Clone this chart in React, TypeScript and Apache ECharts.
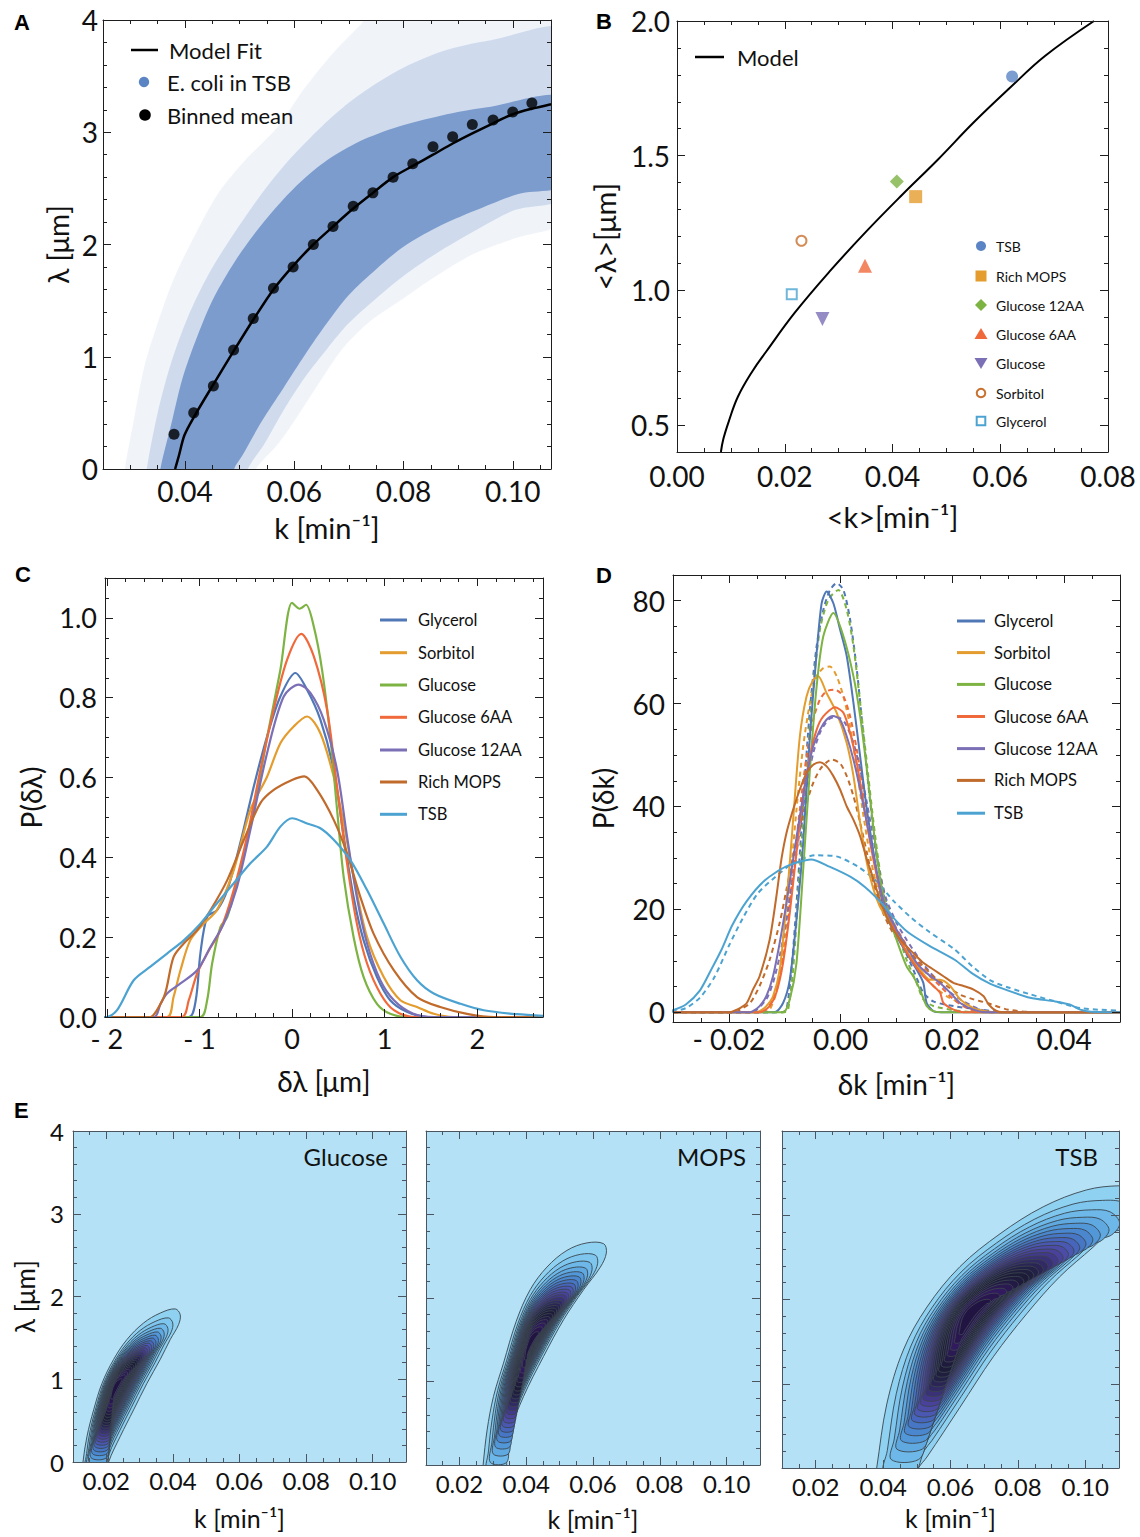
import React, { useEffect, useRef } from "react";
import * as echarts from "echarts";

const FONT = "Lato, 'Open Sans', 'DejaVu Sans', sans-serif";
const BOLD_FONT = "'Liberation Sans', Arial, sans-serif";
const INK = "#111111";
const FRAME = "#1e1e1e";

// ---------------- Panel A ----------------
const binnedK = [0.038, 0.0416, 0.0452, 0.0489, 0.0525, 0.0562, 0.0598, 0.0635, 0.0671, 0.0708, 0.0744, 0.0781, 0.0817, 0.0854, 0.089, 0.0926, 0.0964, 0.1, 0.1035];
const binnedLambda = [0.31, 0.5, 0.74, 1.06, 1.34, 1.61, 1.8, 2.0, 2.16, 2.34, 2.46, 2.6, 2.72, 2.87, 2.96, 3.07, 3.11, 3.18, 3.26];
const fitK = [0.0382, 0.0389, 0.0399, 0.0416, 0.0454, 0.0489, 0.0525, 0.0562, 0.0598, 0.0635, 0.0671, 0.0708, 0.0744, 0.0781, 0.0817, 0.0854, 0.089, 0.0926, 0.0964, 0.1, 0.1035, 0.107];
const fitLambda = [0, 0.12, 0.3, 0.46, 0.77, 1.05, 1.33, 1.6, 1.81, 2.0, 2.16, 2.32, 2.46, 2.6, 2.7, 2.8, 2.9, 2.99, 3.08, 3.16, 3.21, 3.25];
const cloudOuter = [[0.029, -0.1], [0.029, 0], [0.0305, 0.4], [0.0325, 0.9], [0.035, 1.3], [0.038, 1.7], [0.042, 2.1], [0.046, 2.45], [0.051, 2.75], [0.057, 3.05], [0.062, 3.4], [0.067, 3.7], [0.072, 3.95], [0.074, 4.05], [0.11, 4.05], [0.11, 2.25], [0.1, 2.05], [0.093, 1.92], [0.086, 1.72], [0.08, 1.52], [0.074, 1.32], [0.069, 1.08], [0.065, 0.8], [0.061, 0.5], [0.057, 0.22], [0.053, 0], [0.053, -0.1]];
const cloudMid = [[0.033, -0.1], [0.033, 0], [0.035, 0.5], [0.0375, 0.95], [0.0405, 1.35], [0.0445, 1.75], [0.049, 2.1], [0.054, 2.45], [0.059, 2.75], [0.065, 3.05], [0.071, 3.3], [0.079, 3.55], [0.087, 3.72], [0.096, 3.82], [0.11, 3.9], [0.11, 2.45], [0.1, 2.3], [0.093, 2.12], [0.086, 1.92], [0.08, 1.72], [0.075, 1.52], [0.07, 1.3], [0.066, 1.07], [0.062, 0.82], [0.058, 0.52], [0.0545, 0.22], [0.0515, 0], [0.0515, -0.1]];
const cloudCore = [[0.0355, -0.1], [0.0355, 0], [0.0375, 0.4], [0.0395, 0.8], [0.042, 1.15], [0.045, 1.5], [0.0485, 1.8], [0.052, 2.05], [0.0565, 2.32], [0.061, 2.55], [0.066, 2.75], [0.072, 2.92], [0.079, 3.05], [0.087, 3.15], [0.095, 3.22], [0.11, 3.3], [0.11, 2.55], [0.101, 2.45], [0.093, 2.3], [0.086, 2.15], [0.08, 1.98], [0.075, 1.78], [0.07, 1.55], [0.066, 1.3], [0.062, 1.02], [0.058, 0.72], [0.054, 0.42], [0.0505, 0.12], [0.049, 0], [0.049, -0.1]];
const cloudBands = [cloudOuter, cloudMid, cloudCore];
const cloudFills = ["rgba(92,132,194,0.09)", "rgba(92,132,194,0.22)", "rgba(92,132,194,0.72)"];

// ---------------- Panel B ----------------
const mediaB = ["TSB", "Rich MOPS", "Glucose 12AA", "Glucose 6AA", "Glucose", "Sorbitol", "Glycerol"];
const meanK = [0.0622, 0.0443, 0.0408, 0.0349, 0.027, 0.0231, 0.0213];
const meanLambda = [1.794, 1.348, 1.404, 1.091, 0.894, 1.184, 0.986];
const colorsB = ["#5b84c4", "#e49c2e", "#7db343", "#f0693a", "#7b6fb6", "#c8702e", "#4ca3d1"];
const symbolsB = ["circle", "rect", "diamond", "triangle", "triangle", "emptyCircle", "emptyRect"];
const symbolSizeB = [12, 13, 14, 14, 14, 10, 10];
const modelK = [0.00815, 0.0086, 0.0096, 0.0113, 0.014, 0.0166, 0.0219, 0.0285, 0.0351, 0.0418, 0.0484, 0.055, 0.0617, 0.0683, 0.0774];
const modelLambda = [0.4, 0.448, 0.513, 0.605, 0.7, 0.774, 0.918, 1.074, 1.218, 1.355, 1.485, 1.622, 1.75, 1.87, 2.0];

// ---------------- Panels C & D ----------------
const mediaNames = ["Glycerol", "Sorbitol", "Glucose", "Glucose 6AA", "Glucose 12AA", "Rich MOPS", "TSB"];
const mediaColors = ["#5077b6", "#e39c2d", "#7db343", "#f0693a", "#7b6fb6", "#c06a2b", "#4ca3d1"];

const glycerolC = [[-2.03, 0], [-1.115, 0], [-1.04, 0.042], [-0.99, 0.159], [-0.917, 0.251], [-0.81, 0.268], [-0.7, 0.318], [-0.56, 0.435], [-0.414, 0.577], [-0.27, 0.703], [-0.126, 0.803], [0.036, 0.862], [0.162, 0.82], [0.306, 0.745], [0.45, 0.619], [0.558, 0.452], [0.665, 0.3], [0.773, 0.192], [0.917, 0.1], [1.06, 0.042], [1.24, 0.013], [1.46, 0], [2.71, 0]];
const sorbitolC = [[-2.03, 0], [-1.35, 0], [-1.28, 0.05], [-1.205, 0.117], [-1.1, 0.192], [-0.953, 0.234], [-0.81, 0.268], [-0.63, 0.368], [-0.45, 0.519], [-0.27, 0.602], [-0.126, 0.686], [0.018, 0.728], [0.162, 0.753], [0.306, 0.711], [0.45, 0.602], [0.558, 0.485], [0.665, 0.351], [0.81, 0.2], [0.99, 0.1], [1.17, 0.042], [1.35, 0.025], [1.53, 0.008], [1.74, 0], [2.71, 0]];
const glucoseC = [[-2.03, 0], [-0.99, 0], [-0.917, 0.042], [-0.863, 0.134], [-0.773, 0.226], [-0.7, 0.25], [-0.56, 0.37], [-0.41, 0.52], [-0.27, 0.7], [-0.126, 0.87], [0, 1.038], [0.083, 1.023], [0.151, 1.033], [0.234, 0.979], [0.324, 0.87], [0.414, 0.7], [0.486, 0.52], [0.558, 0.35], [0.665, 0.2], [0.773, 0.1], [0.917, 0.033], [1.06, 0.008], [1.24, 0], [2.71, 0]];
const glucose6C = [[-2.03, 0], [-1.19, 0], [-1.115, 0.042], [-1.025, 0.109], [-0.917, 0.159], [-0.773, 0.218], [-0.63, 0.318], [-0.486, 0.452], [-0.342, 0.619], [-0.198, 0.77], [-0.054, 0.895], [0.1, 0.96], [0.234, 0.904], [0.378, 0.77], [0.486, 0.577], [0.594, 0.385], [0.7, 0.234], [0.81, 0.134], [0.953, 0.059], [1.1, 0.017], [1.31, 0], [2.71, 0]];
const glucose12C = [[-2.03, 0], [-1.49, 0], [-1.42, 0.033], [-1.35, 0.059], [-1.205, 0.084], [-1.025, 0.117], [-0.88, 0.176], [-0.737, 0.234], [-0.594, 0.326], [-0.45, 0.469], [-0.27, 0.661], [-0.09, 0.803], [0.072, 0.833], [0.198, 0.812], [0.342, 0.745], [0.486, 0.619], [0.594, 0.452], [0.7, 0.3], [0.81, 0.184], [0.953, 0.092], [1.1, 0.042], [1.31, 0.008], [1.53, 0], [2.71, 0]];
const richMopsC = [[-2.03, 0], [-1.53, 0], [-1.46, 0.017], [-1.37, 0.059], [-1.28, 0.15], [-1.17, 0.184], [-1.025, 0.218], [-0.88, 0.268], [-0.7, 0.343], [-0.52, 0.444], [-0.342, 0.536], [-0.198, 0.569], [0, 0.594], [0.133, 0.603], [0.27, 0.569], [0.45, 0.494], [0.594, 0.41], [0.737, 0.301], [0.88, 0.209], [1.1, 0.117], [1.35, 0.05], [1.6, 0.025], [1.89, 0.008], [2.18, 0], [2.71, 0]];
const tsbC = [[-2.03, 0], [-2.0, 0], [-1.89, 0.017], [-1.71, 0.092], [-1.53, 0.126], [-1.35, 0.159], [-1.17, 0.192], [-0.99, 0.234], [-0.81, 0.285], [-0.63, 0.335], [-0.45, 0.385], [-0.27, 0.427], [-0.126, 0.477], [0, 0.498], [0.162, 0.485], [0.306, 0.473], [0.45, 0.444], [0.63, 0.393], [0.81, 0.318], [0.99, 0.234], [1.17, 0.151], [1.35, 0.092], [1.53, 0.059], [1.82, 0.033], [2.07, 0.017], [2.43, 0.007], [2.71, 0.003]];
const curvesC = [glycerolC, sorbitolC, glucoseC, glucose6C, glucose12C, richMopsC, tsbC];

const glycerolD = [[-0.03, 0], [-0.0118, 0], [-0.0103, 1.8], [-0.0091, 6.3], [-0.0079, 18], [-0.0067, 32.9], [-0.0055, 53.6], [-0.0043, 69.8], [-0.0034, 79.5], [-0.0025, 81.8], [-0.0013, 79.5], [-0.0001, 74.4], [0.0011, 69.2], [0.0023, 60.1], [0.0035, 49.7], [0.0047, 39.4], [0.0059, 31], [0.007, 23.8], [0.0082, 18.7], [0.01, 14.8], [0.0118, 11.5], [0.0136, 8.3], [0.0148, 5.7], [0.0154, 1.8], [0.0166, 0.2], [0.018, 0], [0.05, 0]];
const glycerolDm = [[-0.03, 0], [-0.0105, 0], [-0.0097, 0.5], [-0.0088, 8.3], [-0.0079, 21], [-0.0067, 40.7], [-0.0055, 58.8], [-0.0043, 71.1], [-0.0031, 78.2], [-0.0019, 82.1], [-0.0007, 83.4], [0.0005, 82.1], [0.0017, 76.3], [0.0029, 66.6], [0.0041, 53.6], [0.0053, 40.7], [0.0065, 30.3], [0.0076, 23.2], [0.0094, 17.4], [0.0112, 12.8], [0.013, 8.3], [0.0148, 3.8], [0.0166, 2.1], [0.0202, 1.2], [0.025, 0.5], [0.03, 0], [0.05, 0]];
const sorbitolD = [[-0.03, 0], [-0.0155, 0], [-0.0145, 0.2], [-0.0133, 1.2], [-0.0121, 3.1], [-0.0109, 8.3], [-0.0097, 21.2], [-0.0085, 37.4], [-0.0073, 53.6], [-0.0061, 61.4], [-0.0049, 64.6], [-0.004, 65.3], [-0.0025, 62], [-0.0007, 58.2], [0.0011, 52.3], [0.0023, 45.9], [0.0035, 36.8], [0.0047, 29], [0.0059, 23.8], [0.007, 20.6], [0.0088, 17.4], [0.0106, 14.1], [0.0124, 10.9], [0.0142, 8.3], [0.016, 6.3], [0.0178, 6.3], [0.0196, 5.1], [0.0214, 2.5], [0.0238, 0.8], [0.026, 0.2], [0.028, 0], [0.05, 0]];
const sorbitolDm = [[-0.03, 0], [-0.0135, 0], [-0.0127, 0.5], [-0.0115, 3.8], [-0.0103, 11.5], [-0.0091, 24.5], [-0.0079, 39.4], [-0.0067, 51.7], [-0.0055, 60.1], [-0.0043, 65.3], [-0.0031, 66.9], [-0.0019, 67.2], [-0.0007, 65.3], [0.0005, 61.4], [0.0017, 55.6], [0.0029, 47.2], [0.0041, 38.1], [0.0053, 30.3], [0.0065, 24.5], [0.0082, 19.3], [0.01, 15.4], [0.0118, 12.2], [0.0142, 8.3], [0.0166, 5.1], [0.019, 3.1], [0.0214, 1.8], [0.0238, 0.5], [0.027, 0], [0.05, 0]];
const glucoseD = [[-0.03, 0], [-0.0103, 0], [-0.0091, 2.5], [-0.0079, 9.6], [-0.0067, 27.7], [-0.0055, 47.1], [-0.0043, 63.3], [-0.0031, 73.1], [-0.0013, 77.6], [0.0005, 73.1], [0.0023, 65.3], [0.0035, 57.5], [0.0047, 47.1], [0.0059, 35.5], [0.007, 26.4], [0.0082, 19.9], [0.01, 14.1], [0.0118, 8.9], [0.013, 7], [0.0142, 4.4], [0.0154, 1.2], [0.0166, 0.2], [0.018, 0], [0.05, 0]];
const glucoseDm = [[-0.03, 0], [-0.01, 0], [-0.0094, 0.5], [-0.0085, 8.3], [-0.0073, 27.7], [-0.0061, 47.1], [-0.0049, 63.3], [-0.0037, 74.4], [-0.0022, 80.2], [-0.0004, 82.1], [0.0011, 78.2], [0.0023, 71.1], [0.0035, 60.1], [0.0047, 48.4], [0.0059, 36.8], [0.007, 27.7], [0.0082, 21.2], [0.01, 16.1], [0.0118, 10.2], [0.0136, 5.7], [0.0148, 2.5], [0.0166, 1.2], [0.0202, 0.4], [0.024, 0], [0.05, 0]];
const glucose6D = [[-0.03, 0], [-0.0145, 0], [-0.0139, 0.2], [-0.0127, 1.2], [-0.0115, 3.8], [-0.0103, 9.6], [-0.0091, 19.3], [-0.0079, 31], [-0.0067, 42], [-0.0055, 49.7], [-0.0043, 54.9], [-0.0031, 57.5], [-0.001, 59.3], [0.0005, 58.2], [0.0017, 54.3], [0.0029, 48.4], [0.0041, 40.7], [0.0053, 32.9], [0.0065, 26.4], [0.0076, 21.9], [0.0094, 16.7], [0.0112, 12.8], [0.013, 9.6], [0.0148, 7], [0.0166, 5.1], [0.0178, 3.8], [0.0184, 1.8], [0.0202, 0.5], [0.022, 0], [0.05, 0]];
const glucose6Dm = [[-0.03, 0], [-0.014, 0], [-0.0133, 0.5], [-0.0121, 2.5], [-0.0109, 7], [-0.0097, 14.8], [-0.0085, 27.7], [-0.0073, 39.4], [-0.0061, 49.7], [-0.0049, 56.9], [-0.0037, 60.8], [-0.0025, 62.4], [-0.001, 62.7], [0.0005, 61.4], [0.0017, 57.5], [0.0029, 51], [0.0041, 42.7], [0.0053, 34.2], [0.0065, 27.1], [0.0076, 21.9], [0.0094, 17.4], [0.0112, 14.1], [0.013, 10.9], [0.0154, 7.6], [0.0178, 5.1], [0.0202, 2.5], [0.0226, 0.8], [0.025, 0], [0.05, 0]];
const glucose12D = [[-0.03, 0], [-0.0163, 0], [-0.0157, 0.2], [-0.0145, 1.2], [-0.0133, 3.1], [-0.0121, 7], [-0.0109, 13.5], [-0.0097, 21.2], [-0.0085, 29.7], [-0.0073, 38.1], [-0.0061, 45.9], [-0.0049, 51.7], [-0.0037, 54.9], [-0.0025, 56.9], [-0.0014, 57.6], [-0.0001, 56.9], [0.0011, 53.6], [0.0023, 49.1], [0.0035, 43.3], [0.0047, 36.8], [0.0059, 30.3], [0.007, 24.5], [0.0082, 19.9], [0.01, 16.1], [0.0118, 12.8], [0.0136, 9.6], [0.0154, 7.6], [0.0178, 5.7], [0.0196, 3.8], [0.0214, 1.8], [0.0238, 0.5], [0.026, 0], [0.05, 0]];
const glucose12Dm = [[-0.03, 0], [-0.0158, 0], [-0.015, 0.5], [-0.0133, 2.5], [-0.0121, 5.7], [-0.0109, 10.9], [-0.0097, 18], [-0.0085, 26.4], [-0.0073, 35.5], [-0.0061, 43.9], [-0.0049, 50.4], [-0.0037, 54.3], [-0.0022, 56.9], [-0.0007, 57.5], [0.0008, 56.2], [0.0023, 52.3], [0.0035, 47.2], [0.0047, 40.7], [0.0059, 33.5], [0.007, 27.1], [0.0082, 21.9], [0.01, 17.4], [0.0118, 14.1], [0.0142, 10.2], [0.0166, 7], [0.019, 4.4], [0.0214, 2.5], [0.0244, 0.8], [0.027, 0], [0.05, 0]];
const richMopsD = [[-0.03, 0], [-0.0198, 0], [-0.0192, 0.2], [-0.018, 0.8], [-0.0168, 1.8], [-0.0157, 4.4], [-0.0145, 7], [-0.0127, 14.1], [-0.0115, 22.5], [-0.0106, 29.7], [-0.0097, 34.8], [-0.0085, 39.4], [-0.0073, 43.3], [-0.0061, 46.5], [-0.0049, 48.1], [-0.0037, 48.6], [-0.0025, 47.8], [-0.0013, 45.9], [-0.0001, 43.3], [0.0011, 40], [0.0023, 37.4], [0.0035, 34.2], [0.0047, 29.7], [0.0059, 25.8], [0.007, 21.9], [0.0082, 18.7], [0.0094, 16.1], [0.0112, 13.5], [0.013, 11.5], [0.0148, 9.6], [0.0166, 8.3], [0.0184, 7], [0.0202, 5.7], [0.022, 5.1], [0.0238, 4.4], [0.0256, 3.1], [0.0265, 1.5], [0.028, 0.2], [0.03, 0], [0.05, 0]];
const richMopsDm = [[-0.03, 0], [-0.0188, 0], [-0.018, 0.5], [-0.0162, 1.8], [-0.0145, 5.1], [-0.0127, 10.2], [-0.0109, 17.4], [-0.0097, 23.8], [-0.0085, 30.3], [-0.0073, 36.1], [-0.0061, 40.7], [-0.0049, 44.6], [-0.0037, 47.2], [-0.0025, 48.6], [-0.0016, 49.1], [-0.0001, 48.4], [0.0011, 45.9], [0.0023, 42], [0.0035, 36.8], [0.0047, 31], [0.0059, 25.1], [0.0076, 19.3], [0.0094, 15.4], [0.0118, 12.2], [0.0142, 9.6], [0.0166, 7], [0.019, 5.1], [0.0214, 3.4], [0.0238, 2.5], [0.0262, 1.8], [0.03, 0.5], [0.035, 0], [0.05, 0]];
const tsbD = [[-0.0302, 0.3], [-0.0277, 1.5], [-0.0252, 4.2], [-0.0232, 8.2], [-0.0213, 12.2], [-0.0194, 16.9], [-0.0168, 21.6], [-0.0136, 25.6], [-0.0098, 28.3], [-0.0053, 29.7], [-0.002, 28.3], [0.0018, 26.3], [0.0044, 24.3], [0.0076, 20.9], [0.0095, 18.3], [0.012, 15.6], [0.0159, 12.9], [0.0204, 10.2], [0.0236, 7.5], [0.0268, 5.5], [0.03, 4.2], [0.0339, 2.8], [0.0384, 2.1], [0.041, 1.5], [0.0429, 0.5], [0.0448, 0.1], [0.05, 0]];
const tsbDm = [[-0.0302, 0.1], [-0.0277, 0.8], [-0.0252, 2.8], [-0.0226, 6.8], [-0.02, 12.9], [-0.0175, 18.3], [-0.0149, 23], [-0.0117, 26.3], [-0.0085, 29], [-0.0046, 30.5], [-0.0008, 30.3], [0.0031, 28.3], [0.0063, 25.6], [0.0095, 21.6], [0.0127, 18.3], [0.0159, 15.6], [0.0204, 12.2], [0.0236, 8.9], [0.0268, 6.2], [0.03, 4.8], [0.0339, 3.5], [0.0384, 2.1], [0.0429, 0.8], [0.0461, 0.5], [0.05, 0.3]];
const curvesDSolid = [glycerolD, sorbitolD, glucoseD, glucose6D, glucose12D, richMopsD, tsbD];
const curvesDDashed = [glycerolDm, sorbitolDm, glucoseDm, glucose6Dm, glucose12Dm, richMopsDm, tsbDm];

// ---------------- Panel E ----------------
const eTitles = ["Glucose", "MOPS", "TSB"];
const glucoseOutline = [[0.0125, -0.3], [0.013, 0], [0.0142, 0.31], [0.0162, 0.63], [0.0187, 0.95], [0.0222, 1.24], [0.0262, 1.48], [0.0312, 1.68], [0.0362, 1.8], [0.0407, 1.85], [0.0422, 1.78], [0.0417, 1.66], [0.0392, 1.48], [0.0362, 1.24], [0.0322, 0.95], [0.0282, 0.63], [0.0242, 0.31], [0.0207, 0], [0.019, -0.3]];
const mopsOutline = [[0.0265, -0.3], [0.0271, 0], [0.0283, 0.42], [0.0302, 0.82], [0.0332, 1.22], [0.037, 1.72], [0.0412, 2.1], [0.0462, 2.37], [0.0522, 2.57], [0.0582, 2.66], [0.0632, 2.65], [0.064, 2.54], [0.0622, 2.37], [0.0572, 2.1], [0.0512, 1.74], [0.0452, 1.3], [0.0392, 0.82], [0.035, 0.38], [0.0333, 0], [0.0325, -0.3]];
const tsbOutline = [[0.037, -0.3], [0.0381, 0], [0.0411, 0.76], [0.046, 1.4], [0.053, 1.91], [0.0628, 2.39], [0.0747, 2.78], [0.0875, 3.1], [0.1003, 3.3], [0.1102, 3.35], [0.117, 3.32], [0.1205, 3.15], [0.117, 2.97], [0.11, 2.9], [0.1023, 2.62], [0.0924, 2.27], [0.0826, 1.83], [0.0727, 1.32], [0.0628, 0.72], [0.053, 0.13], [0.0505, 0], [0.047, -0.3]];
const eOutlines = [glucoseOutline, mopsOutline, tsbOutline];
const ePeaks = [[0.0225, 0.9], [0.0412, 1.46], [0.0658, 1.83]];
const contourScales = [1.0, 0.886, 0.812, 0.754, 0.707, 0.666, 0.629, 0.595, 0.564, 0.534, 0.505, 0.478, 0.451, 0.424, 0.398, 0.372, 0.346, 0.32, 0.292, 0.263, 0.233, 0.199, 0.161, 0.113];
const contourFills = ["#8ed1f1", "#7ec6ee", "#6db8e8", "#5fa8e0", "#5298d8", "#4a87cf", "#4776c5", "#4766bb", "#4a58b1", "#4c4ca6", "#4a429a", "#43398a", "#3a3177", "#312a65", "#2a2555", "#242148", "#201e3e", "#1d1c38", "#1f1b3c", "#241a46", "#2b1a52", "#311a5e", "#2a1750", "#221442"];

// ---------------- helpers ----------------
function steps(a: number, b: number, d: number): number[] {
  const out: number[] = [];
  const n = Math.round((b - a) / d);
  for (let i = 0; i <= n; i++) out.push(+(a + i * d).toFixed(6));
  return out;
}
const fmt2 = (v: number) => v.toFixed(2);
const fmt1 = (v: number) => v.toFixed(1);
const fmt0 = (v: number) => String(Math.round(v));
const fmtSigned = (dec: number) => (v: number) => (v < -1e-9 ? "- " + Math.abs(v).toFixed(dec) : Math.abs(v).toFixed(dec));

interface AxisDef {
  min: number; max: number; major: number[]; minor: number[];
  fmt: (v: number) => string; labels: boolean; labelSize: number; labelMargin: number;
  name?: string; nameGap?: number; nameSize?: number; color?: string;
}

function buildAxes(dir: "x" | "y", grid: number, d: AxisDef) {
  const sides = dir === "x" ? ["bottom", "top"] : ["left", "right"];
  const color = d.color || FRAME;
  const list: any[] = [];
  sides.forEach((side, si) => {
    [true, false].forEach((isMajor) => {
      const main = si === 0 && isMajor;
      const ax: any = {
        type: "value", gridIndex: grid, position: side, min: d.min, max: d.max, z: 10,
        axisLine: { show: isMajor, onZero: false, lineStyle: { color, width: 1 } },
        axisTick: { show: true, inside: true, length: isMajor ? 8 : 4, customValues: isMajor ? d.major : d.minor, lineStyle: { color, width: 1 } },
        axisLabel: main && d.labels
          ? { show: true, customValues: d.major, formatter: d.fmt, fontSize: d.labelSize, fontFamily: FONT, color: INK, margin: d.labelMargin }
          : { show: false },
        splitLine: { show: false },
        axisPointer: { show: false },
        silent: true,
      };
      if (main && d.name) {
        ax.name = d.name;
        ax.nameLocation = "middle";
        ax.nameGap = d.nameGap;
        ax.nameTextStyle = { fontSize: d.nameSize, fontFamily: FONT, color: INK };
      }
      list.push(ax);
    });
  });
  return list;
}

function buildOption() {
  const grids: any[] = [
    { left: 103, top: 20, width: 448, height: 449 },
    { left: 677, top: 21, width: 431, height: 431 },
    { left: 105, top: 578, width: 438, height: 439 },
    { left: 673, top: 575, width: 447, height: 447 },
    { left: 73, top: 1131, width: 333, height: 331, show: true, backgroundColor: "#b4e1f5", borderWidth: 0 },
    { left: 426, top: 1131, width: 334, height: 334, show: true, backgroundColor: "#b4e1f5", borderWidth: 0 },
    { left: 782, top: 1131, width: 337, height: 337, show: true, backgroundColor: "#b4e1f5", borderWidth: 0 },
  ];
  const kName = "k [min\u207B\u00B9]";
  const xDefs: AxisDef[] = [
    { min: 0.025, max: 0.107, major: [0.04, 0.06, 0.08, 0.1], minor: steps(0.03, 0.105, 0.005), fmt: fmt2, labels: true, labelSize: 28, labelMargin: 8, name: kName, nameGap: 44, nameSize: 29 },
    { min: 0, max: 0.08, major: [0, 0.02, 0.04, 0.06, 0.08], minor: steps(0, 0.08, 0.005), fmt: fmt2, labels: true, labelSize: 28, labelMargin: 10, name: "<k>[min\u207B\u00B9]", nameGap: 50, nameSize: 29 },
    { min: -2.02, max: 2.71, major: [-2, -1, 0, 1, 2], minor: steps(-2, 2.6, 0.2), fmt: fmtSigned(0), labels: true, labelSize: 27, labelMargin: 8, name: "δλ [μm]", nameGap: 50, nameSize: 28 },
    { min: -0.03, max: 0.05, major: [-0.02, 0, 0.02, 0.04], minor: steps(-0.03, 0.05, 0.005), fmt: fmtSigned(2), labels: true, labelSize: 28, labelMargin: 3, name: "δk [min\u207B\u00B9]", nameGap: 48, nameSize: 28 },
  ];
  const yDefs: AxisDef[] = [
    { min: 0, max: 4, major: [0, 1, 2, 3, 4], minor: steps(0, 4, 0.2), fmt: fmt0, labels: true, labelSize: 28, labelMargin: 5, name: "λ [μm]", nameGap: 31, nameSize: 28 },
    { min: 0.4, max: 2.0, major: [0.5, 1.0, 1.5, 2.0], minor: steps(0.4, 2.0, 0.1), fmt: fmt1, labels: true, labelSize: 28, labelMargin: 7, name: "<λ>[μm]", nameGap: 58, nameSize: 29 },
    { min: 0, max: 1.1, major: [0, 0.2, 0.4, 0.6, 0.8, 1.0], minor: steps(0, 1.1, 0.05), fmt: fmt1, labels: true, labelSize: 27, labelMargin: 8, name: "P(δλ)", nameGap: 60, nameSize: 28 },
    { min: -1.9, max: 85, major: [0, 20, 40, 60, 80], minor: steps(0, 85, 5), fmt: fmt0, labels: true, labelSize: 28, labelMargin: 8, name: "P(δk)", nameGap: 56, nameSize: 28 },
  ];
  const eNameGaps = [43, 41, 37];
  for (let e = 0; e < 3; e++) {
    xDefs.push({ min: 0.01, max: 0.11, major: [0.02, 0.04, 0.06, 0.08, 0.1], minor: steps(0.01, 0.11, 0.005), fmt: fmt2, labels: true, labelSize: 24, labelMargin: 6, name: kName, nameGap: eNameGaps[e], nameSize: 25, color: "#4a5560" });
    yDefs.push({ min: 0, max: 4, major: [0, 1, 2, 3, 4], minor: steps(0, 4, 0.2), fmt: fmt0, labels: e === 0, labelSize: 24, labelMargin: 9, name: e === 0 ? "λ [μm]" : undefined, nameGap: 35, nameSize: 26, color: "#4a5560" });
  }
  const xAxis: any[] = [];
  const yAxis: any[] = [];
  xDefs.forEach((d, g) => xAxis.push(...buildAxes("x", g, d)));
  yDefs.forEach((d, g) => yAxis.push(...buildAxes("y", g, d)));
  const ax = (g: number) => ({ xAxisIndex: 4 * g, yAxisIndex: 4 * g });

  const series: any[] = [];
  // Panel A
  series.push({
    type: "custom", name: "E. coli in TSB", ...ax(0), clip: true, silent: true, z: 1,
    data: cloudBands.map((b, i) => [b[1][0], b[1][1], i]),
    renderItem: (params: any, api: any) => {
      const i = api.value(2);
      const pts = cloudBands[i].map((p) => api.coord(p));
      return { type: "polygon", shape: { points: pts, smooth: 0.3 }, style: { fill: cloudFills[i] } };
    },
  });
  series.push({
    type: "line", name: "Model Fit", ...ax(0), data: fitK.map((k, i) => [k, fitLambda[i]]), smooth: 0.3,
    showSymbol: false, lineStyle: { color: "#000", width: 2.5 }, z: 3, silent: true,
  });
  series.push({
    type: "scatter", name: "Binned mean", ...ax(0), data: binnedK.map((k, i) => [k, binnedLambda[i]]), symbol: "circle", symbolSize: 11,
    itemStyle: { color: "#000" }, z: 4, silent: true,
  });
  // Panel B
  series.push({
    type: "line", name: "Model", ...ax(1), data: modelK.map((k, i) => [k, modelLambda[i]]), smooth: 0.4,
    showSymbol: false, lineStyle: { color: "#000", width: 2 }, z: 3, silent: true,
  });
  mediaB.forEach((m, i) => {
    const open = symbolsB[i].startsWith("empty");
    series.push({
      type: "scatter", name: m, ...ax(1), data: [[meanK[i], meanLambda[i]]], symbol: symbolsB[i], symbolSize: symbolSizeB[i],
      symbolRotate: m === "Glucose" ? 180 : 0,
      itemStyle: open ? { color: colorsB[i], borderColor: colorsB[i], borderWidth: 2.2 } : { color: colorsB[i] },
      z: 4, silent: true,
    });
  });
  // Panel C
  curvesC.forEach((c, i) => {
    series.push({
      type: "line", name: mediaNames[i], ...ax(2), data: c, smooth: 0.3, showSymbol: false,
      lineStyle: { color: mediaColors[i], width: 2.2 }, z: 3, silent: true,
    });
  });
  // Panel D
  curvesDDashed.forEach((c, i) => {
    series.push({
      type: "line", name: mediaNames[i] + " (dashed)", ...ax(3), data: c, smooth: 0.25, showSymbol: false,
      lineStyle: { color: mediaColors[i], width: 2, type: [5, 4] }, z: 3, silent: true,
    });
  });
  curvesDSolid.forEach((c, i) => {
    series.push({
      type: "line", name: mediaNames[i], ...ax(3), data: c, smooth: 0.25, showSymbol: false,
      lineStyle: { color: mediaColors[i], width: 2 }, z: 3, silent: true,
    });
  });
  // Panel E
  eOutlines.forEach((outline, e) => {
    const c = ePeaks[e];
    series.push({
      type: "custom", name: eTitles[e], ...ax(4 + e), clip: true, silent: true, z: 2,
      data: contourScales.map((s, i) => [c[0], c[1], i]),
      renderItem: (params: any, api: any) => {
        const i = api.value(2);
        const s = contourScales[i];
        const pts = outline.map(([k, l]) => api.coord([c[0] + s * (k - c[0]), c[1] + s * (l - c[1])]));
        return { type: "polygon", shape: { points: pts, smooth: 0.35 }, style: { fill: contourFills[i], stroke: "#3a454e", lineWidth: 0.9 } };
      },
    });
  });

  // Graphic: panel letters, legends, titles
  const graphic: any[] = [];
  const letter = (t: string, x: number, y: number) =>
    graphic.push({ type: "text", x, y, style: { text: t, fontSize: 22, fontWeight: "bold", fontFamily: BOLD_FONT, fill: "#000", verticalAlign: "middle" } });
  letter("A", 14, 22);
  letter("B", 596, 21);
  letter("C", 15, 574);
  letter("D", 596, 575);
  letter("E", 14, 1110);

  const txt = (t: string, x: number, y: number, size: number, align = "left") =>
    graphic.push({ type: "text", x, y, style: { text: t, fontSize: size, fontFamily: FONT, fill: INK, verticalAlign: "middle", align } });

  // Legend A
  graphic.push({ type: "line", shape: { x1: 131, y1: 50, x2: 158, y2: 50 }, style: { stroke: "#000", lineWidth: 2.5 } });
  txt("Model Fit", 169, 50, 22);
  graphic.push({ type: "circle", shape: { cx: 144, cy: 82, r: 5.2 }, style: { fill: "#5b84c4" } });
  txt("E. coli in TSB", 167, 82, 22);
  graphic.push({ type: "circle", shape: { cx: 145, cy: 115, r: 5.8 }, style: { fill: "#000" } });
  txt("Binned mean", 167, 115, 22);

  // Legend B (model)
  graphic.push({ type: "line", shape: { x1: 695, y1: 57, x2: 724, y2: 57 }, style: { stroke: "#000", lineWidth: 2.5 } });
  txt("Model", 737, 57, 22);
  // Legend B (media)
  const rowsB = [246, 276, 305, 334, 363, 393, 421];
  const mx = 981;
  mediaB.forEach((m, i) => {
    const y = rowsB[i];
    const col = colorsB[i];
    let shape: any;
    if (i === 0) shape = { type: "circle", shape: { cx: mx, cy: y, r: 5 }, style: { fill: col } };
    else if (i === 1) shape = { type: "rect", shape: { x: mx - 5.5, y: y - 5.5, width: 11, height: 11 }, style: { fill: col } };
    else if (i === 2) shape = { type: "polygon", shape: { points: [[mx, y - 6], [mx + 6, y], [mx, y + 6], [mx - 6, y]] }, style: { fill: col } };
    else if (i === 3) shape = { type: "polygon", shape: { points: [[mx, y - 6], [mx + 6.5, y + 5], [mx - 6.5, y + 5]] }, style: { fill: col } };
    else if (i === 4) shape = { type: "polygon", shape: { points: [[mx, y + 6], [mx + 6.5, y - 5], [mx - 6.5, y - 5]] }, style: { fill: col } };
    else if (i === 5) shape = { type: "circle", shape: { cx: mx, cy: y, r: 4.3 }, style: { fill: "#fff", stroke: col, lineWidth: 2 } };
    else shape = { type: "rect", shape: { x: mx - 4.3, y: y - 4.3, width: 8.6, height: 8.6 }, style: { fill: "#fff", stroke: col, lineWidth: 2 } };
    graphic.push(shape);
    txt(m, 996, y, 14);
  });

  // Legend C
  const rowsC = [620, 652.7, 685, 717.3, 750, 782, 814.3];
  mediaNames.forEach((m, i) => {
    graphic.push({ type: "line", shape: { x1: 380, y1: rowsC[i], x2: 407, y2: rowsC[i] }, style: { stroke: mediaColors[i], lineWidth: 3 } });
    txt(m, 418, rowsC[i], 16.5);
  });
  // Legend D
  const rowsD = [621, 652.6, 684.4, 716.5, 748.6, 780.4, 813.2];
  mediaNames.forEach((m, i) => {
    graphic.push({ type: "line", shape: { x1: 957, y1: rowsD[i], x2: 985, y2: rowsD[i] }, style: { stroke: mediaColors[i], lineWidth: 3 } });
    txt(m, 994, rowsD[i], 16.5);
  });
  // E titles
  txt(eTitles[0], 388, 1156, 24, "right");
  txt(eTitles[1], 746, 1156, 24, "right");
  txt(eTitles[2], 1098, 1156, 24, "right");

  return {
    animation: false,
    backgroundColor: "#ffffff",
    textStyle: { fontFamily: FONT },
    grid: grids,
    xAxis,
    yAxis,
    series,
    graphic: { elements: graphic },
  };
}

export default function App() {
  const ref = useRef<HTMLDivElement>(null);
  useEffect(() => {
    document.body.style.margin = "0";
    const chart = echarts.init(ref.current as HTMLDivElement, null, { renderer: "svg" });
    chart.setOption(buildOption() as any);
    return () => chart.dispose();
  }, []);
  return <div ref={ref} style={{ width: 1140, height: 1537 }} />;
}
